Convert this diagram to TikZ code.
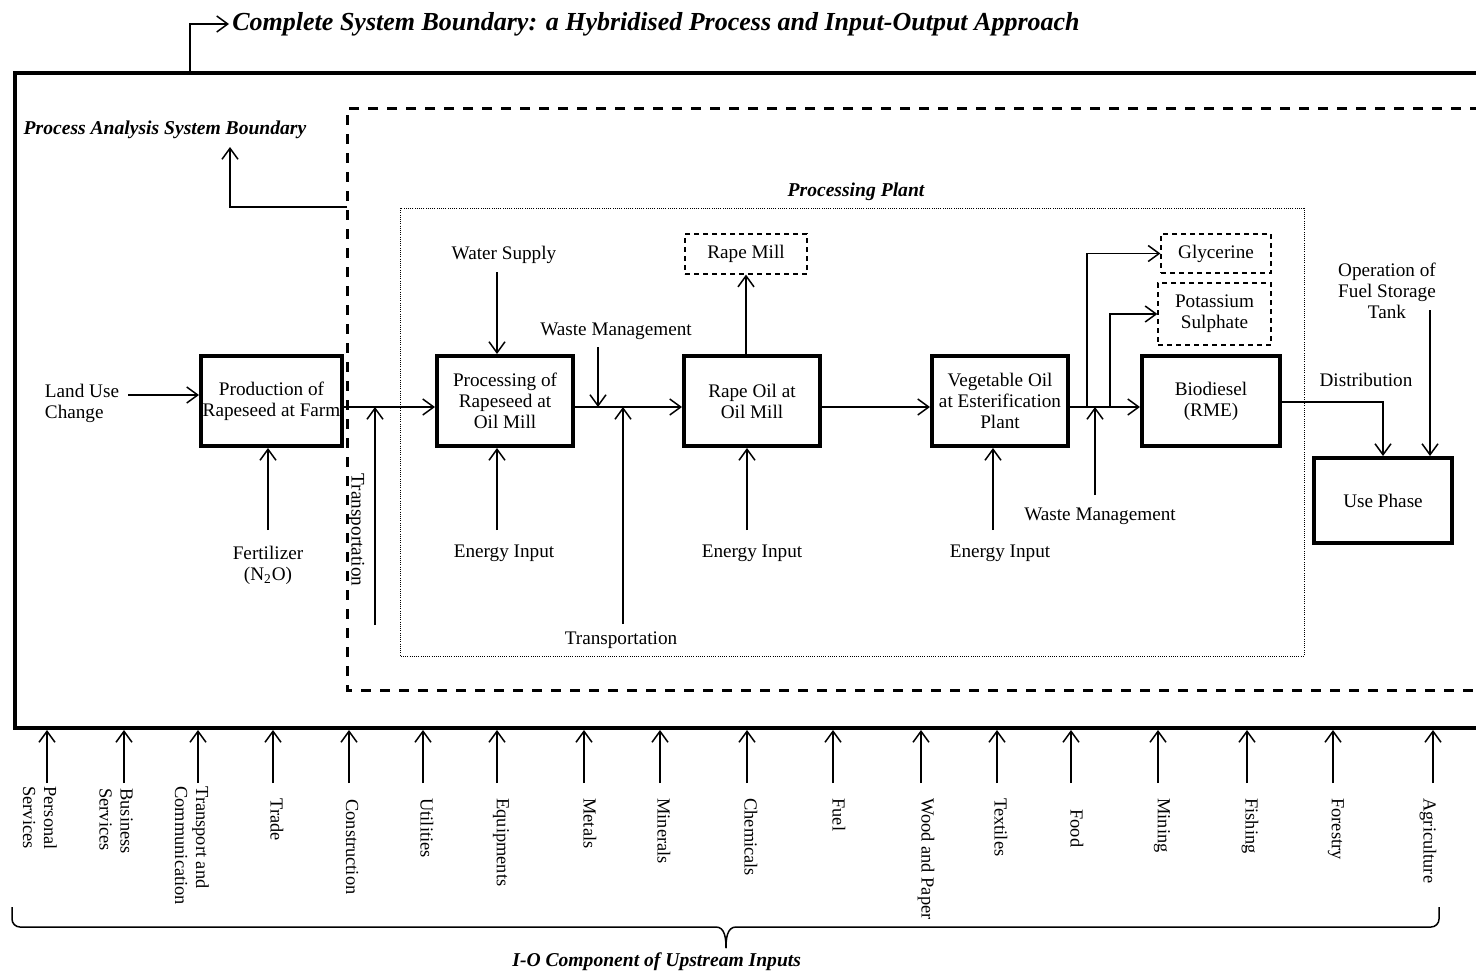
\documentclass[tikz,border=0pt]{standalone}
\usepackage{fontspec}
\setmainfont{Liberation Serif}
\usetikzlibrary{arrows.meta}
\begin{document}
\begin{tikzpicture}[x=0.5pt,y=-0.5pt,
  every node/.style={font=\fontsize{9.6}{10.5}\selectfont},
  arr/.style={line width=0.75pt,-{Straight Barb[length=5.5pt,width=8pt,line width=0.75pt]}},
  mainbox/.style={draw,line width=2pt,minimum width=68pt,minimum height=45pt,align=center,inner sep=0pt},
  prodbox/.style={draw,dash pattern=on 2.5pt off 2pt,line width=0.6pt,align=center,inner sep=0pt},
  bi/.style={font=\fontsize{9.8}{12}\selectfont\bfseries\itshape},
  vlab/.style={rotate=-90,anchor=west,align=left,inner sep=0pt,font=\fontsize{9.2}{10.5}\selectfont},
  outer/.style={line width=2.2pt},
  pab/.style={line width=1.5pt,dash pattern=on 5pt off 4.5pt},
  plant/.style={line width=0.4pt,dash pattern=on 0.5pt off 0.6pt}
]
\useasboundingbox (0,0) rectangle (1476,975);

% boundaries
\draw[outer] (1480,73) -| (15,728) -- (1480,728);
\draw[pab] (1480,108) -| (347,690) -- (1480,690);
\draw[plant] (400,208) rectangle (1304,656);

% title
\node[anchor=west,inner sep=0pt,font=\fontsize{13}{15}\selectfont\bfseries\itshape] (title) at (232,24)
  {Complete System Boundary: a Hybridised Process and Input-Output Approach};
\coordinate (cbTop) at (190,72);
\draw[arr,shorten >=1.5pt] (cbTop) |- (title.west);

\node[bi] (pal) at (165,130) {Process Analysis System Boundary};
\coordinate (pabL) at (347,207);
\coordinate (palA) at (230,147);
\draw[arr] (pabL) -| (palA);

\node[bi] (ppl) at (856,192) {Processing Plant};

% main boxes
\node[mainbox,minimum width=70.5pt] (farm) at (271.5,401) {Production of\\Rapeseed at Farm};
\node[mainbox] (proc) at (505,401) {Processing of\\Rapeseed at\\Oil Mill};
\node[mainbox] (rapeoil) at (752,401) {Rape Oil at\\Oil Mill};
\node[mainbox] (veg) at (1000,401) {Vegetable Oil\\at Esterification\\Plant};
\node[mainbox,minimum width=69pt] (bio) at (1211,401) {Biodiesel\\(RME)};
\node[mainbox,minimum width=69pt,minimum height=42.5pt] (use) at (1383,500.5) {Use Phase};

% products
\node[prodbox,minimum width=61pt,minimum height=20pt] (rapemill) at (746,254) {Rape Mill};
\node[prodbox,minimum width=55pt,minimum height=19.5pt] (glyc) at (1216,253.5) {Glycerine};
\node[prodbox,minimum width=56.5pt,minimum height=31pt] (potas) at (1214.5,314) {Potassium\\Sulphate};

% helper rows
\coordinate (y407) at (0,407);
\coordinate (y402) at (0,402);

% land use
\node[align=left] (luc) at (82,403) {Land Use\\Change};
\coordinate (lucA) at (128,395);
\draw[arr] (lucA) -- (lucA -| farm.west);

% farm -> proc
\draw[arr] (farm.east |- y407) -- (proc.west |- y407);
\coordinate (tr1A) at (375,625);
\draw[arr] (tr1A) -- (tr1A |- y407);
\node[rotate=-90] (tr1) at (356,530) {Transportation};

\node[align=center] (fert) at (268,565) {Fertilizer\\(N\textsubscript{2}O)};
\coordinate (fertA) at (268,530);
\draw[arr] (fertA) -- (fertA |- farm.south);

% proc
\node (ws) at (504,255) {Water Supply};
\coordinate (wsA) at (497,272);
\draw[arr] (wsA) -- (wsA |- proc.north);
\node (e1) at (504,553) {Energy Input};
\coordinate (e1A) at (497,530);
\draw[arr] (e1A) -- (e1A |- proc.south);

\draw[arr] (proc.east |- y407) -- (rapeoil.west |- y407);
\node (wm1) at (616,331) {Waste Management};
\coordinate (wm1A) at (598,347);
\draw[arr] (wm1A) -- (wm1A |- y407);
\node (tr2) at (621,640) {Transportation};
\coordinate (tr2A) at (623,624);
\draw[arr] (tr2A) -- (tr2A |- y407);

% rape oil
\draw[arr] (rapemill.south |- rapeoil.north) -- (rapemill.south);
\node (e2) at (752,553) {Energy Input};
\coordinate (e2A) at (747,530);
\draw[arr] (e2A) -- (e2A |- rapeoil.south);
\draw[arr] (rapeoil.east |- y407) -- (veg.west |- y407);

% veg oil
\node (e3) at (1000,553) {Energy Input};
\coordinate (e3A) at (993,530);
\draw[arr] (e3A) -- (e3A |- veg.south);
\draw[arr] (veg.east |- y407) -- (bio.west |- y407);
\coordinate (g1) at (1087,407);
\draw[arr] (g1) |- (glyc.west);
\coordinate (p1) at (1110,407);
\draw[arr] (p1) |- (potas.west);
\node (wm2) at (1100,516) {Waste Management};
\coordinate (wm2A) at (1095,495);
\draw[arr] (wm2A) -- (wm2A |- y407);

% use phase
\draw[arr] (bio.east |- y402) -| (use.north);
\node (dist) at (1366,380) {Distribution};
\node[align=center] (ofs) at (1387,291) {Operation of\\Fuel Storage\\Tank};
\coordinate (ofsA) at (1430,310);
\draw[arr] (ofsA) -- (ofsA |- use.north);

% upstream inputs
\coordinate (bnd) at (0,730);
\foreach \ax/\lx/\ly/\txt [count=\i] in {
  47/40/786/{Personal\\Services},
  124/116/788/{Business\\Services},
  198/192/786/{Transport and\\Communication},
  273/277/798/{Trade},
  349/352/799/{Construction},
  423/427/798/{Utilities},
  497/501/798/{Equipments},
  584/590/798/{Metals},
  660/664/798/{Minerals},
  747/751/798/{Chemicals},
  833/839/798/{Fuel},
  921/926/798/{Wood and Paper},
  997/1001/798/{Textiles},
  1071/1077/809/{Food},
  1158/1162/798/{Mining},
  1247/1250/798/{Fishing},
  1333/1336/798/{Forestry},
  1433/1428/798/{Agriculture}}
{
  \coordinate (in\i) at (\ax,783);
  \draw[arr] (in\i) -- (in\i |- bnd);
  \node[vlab] (lab\i) at (\lx,\ly) {\txt};
}

% brace
\coordinate (brL) at (12,907);
\coordinate (brR) at (1439,907);
\coordinate (brT) at (726,948);
\draw[line width=0.75pt] (brL) -- (12,919) to[out=-90,in=180] (20,927) -- (716,927) to[out=0,in=90] (brT);
\draw[line width=0.75pt] (brT) to[out=90,in=180] (736,927) -- (1431,927) to[out=0,in=-90] (1439,919) -- (brR);
\node[bi,anchor=west,inner sep=0pt] (io) at (512,962) {I-O Component of Upstream Inputs};
\end{tikzpicture}
\end{document}
